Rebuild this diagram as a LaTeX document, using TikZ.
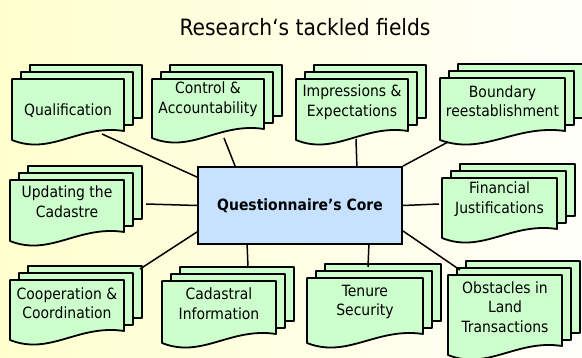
\documentclass[tikz,border=0pt]{standalone}
\usepackage{fontspec}
\setmainfont{DejaVu Sans Condensed}
\definecolor{bgyellow}{RGB}{255,255,206}
\definecolor{bgwhite}{RGB}{255,255,250}
\definecolor{docgreen}{RGB}{204,255,204}
\definecolor{coreblue}{RGB}{198,226,255}
\tikzset{
  docsheet/.style={draw=black,fill=docgreen,line width=1.8pt,line join=round},
  doctext/.style={align=center,inner sep=0pt,font=\fontsize{15.5}{19.5}\selectfont},
  corebox/.style={draw=black,fill=coreblue,line width=1.8pt,minimum width=204pt,minimum height=77pt,font=\bfseries\fontsize{15.5}{19}\selectfont},
  link/.style={line width=1.5pt}
}
% name, x, y, width, height, text drop, text
\newcommand{\multidoc}[7]{
  \filldraw[docsheet] (#2+18,#3-14) rectangle (#2+#4+18,#3+#5-22);
  \filldraw[docsheet] (#2+9,#3-7) rectangle (#2+#4+9,#3+#5-15);
  \filldraw[docsheet] (#2,#3) -- (#2+#4,#3) -- (#2+#4,#3+#5-9)
    .. controls (#2+0.6*#4,#3+#5-16) and (#2+0.35*#4,#3+#5+16) .. (#2,#3+#5) -- cycle;
  \node[doctext] (#1) at (#2+#4/2,#3+#6) {#7};
}
\begin{document}
\begin{tikzpicture}[x=1pt,y=-1pt]
  \fill[left color=bgyellow,right color=bgwhite] (0,0) rectangle (582,358);
  \useasboundingbox (0,0) rectangle (582,358);
  \node[font=\fontsize{22.5}{26}\selectfont] (title) at (305,27) {Research‘s tackled fields};

  \multidoc{qual}{12}{79}{112}{61}{32}{Qualification}
  \multidoc{ctrl}{152}{79}{112}{59}{20}{Control \&\\Accountability}
  \multidoc{impr}{296}{79}{112}{61}{23}{Impressions \&\\Expectations}
  \multidoc{bound}{440}{78}{125}{62}{23}{Boundary\\reestablishment}
  \multidoc{upd}{10}{180}{114}{61}{21.5}{Updating the\\Cadastre}
  \multidoc{fin}{442}{178}{115}{60}{21}{Financial\\Justifications}
  \multidoc{coop}{10}{280}{114}{60}{23}{Cooperation \&\\Coordination}
  \multidoc{cad}{162}{281}{114}{62}{22.5}{Cadastral\\Information}
  \multidoc{ten}{307}{278}{116}{65}{24}{Tenure\\Security}
  \multidoc{obst}{448}{275}{114}{80}{32}{Obstacles in\\Land\\Transactions}

  \node[corebox] (core) at (300,205.5) {Questionnaire’s Core};

  \coordinate (qual-end) at (102,134);
  \coordinate (ctrl-end) at (224,138);
  \coordinate (impr-end) at (356,139);
  \coordinate (bound-end) at (448,142);
  \coordinate (upd-end) at (146,204);
  \coordinate (fin-end) at (439,204);
  \coordinate (coop-end) at (140,269);
  \coordinate (cad-end) at (248,267);
  \coordinate (ten-end) at (368,267);
  \coordinate (obst-end) at (460,270);

  \draw[link] (qual-end) -- ([yshift=-11pt]core.north west);
  \draw[link] (ctrl-end) -- ([xshift=38pt]core.north west);
  \draw[link] (impr-end) -- ([xshift=-46pt]core.north east);
  \draw[link] (bound-end) -- (core.north east);
  \draw[link] (upd-end) -- (core.west);
  \draw[link] (fin-end) -- (core.east);
  \draw[link] (coop-end) -- ([yshift=13pt]core.south west);
  \draw[link] (cad-end) -- ([xshift=50pt]core.south west);
  \draw[link] (ten-end) -- ([xshift=-34pt]core.south east);
  \draw[link] (obst-end) -- ([yshift=14pt]core.south east);
\end{tikzpicture}
\end{document}
